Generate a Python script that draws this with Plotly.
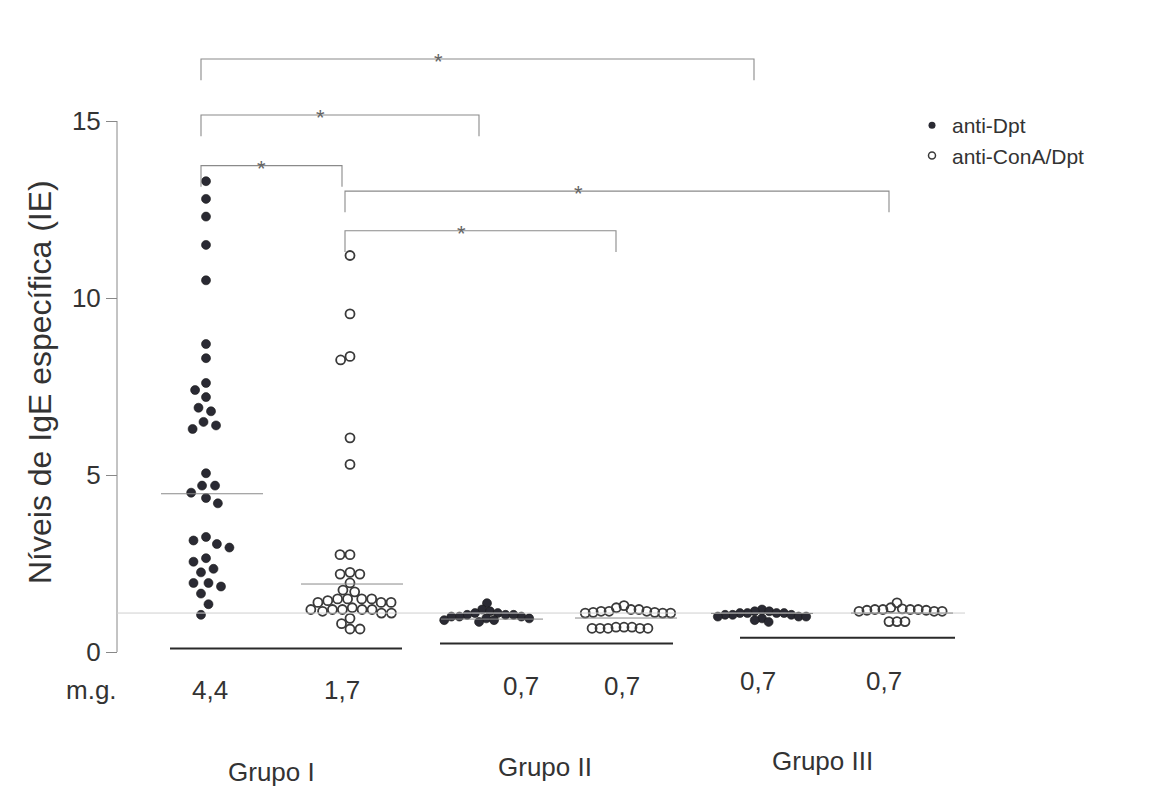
import math
import plotly.graph_objects as go

# ---------------- data ----------------
series_names = ["anti-Dpt", "anti-ConA/Dpt"]
group_labels = ["Grupo I", "Grupo II", "Grupo III"]
mg_labels = ["4,4", "1,7", "0,7", "0,7", "0,7", "0,7"]
y_ticks = [0, 5, 10, 15]

g1_dpt = [13.3, 12.8, 12.3, 11.5, 10.5, 8.7, 8.3, 7.6, 7.4, 7.2, 6.9, 6.8, 6.5,
          6.4, 6.3, 5.05, 4.7, 4.7, 4.5, 4.35, 4.2, 3.25, 3.15, 3.05, 2.95,
          2.65, 2.55, 2.35, 2.25, 1.95, 1.95, 1.85, 1.65, 1.35, 1.05]
g1_cona = [11.2, 9.55, 8.35, 8.25, 6.05, 5.3, 2.75, 2.75, 2.25, 2.2, 2.2, 1.95,
           1.75, 1.7, 1.5, 1.5, 1.5, 1.5, 1.45, 1.4, 1.4, 1.4, 1.25, 1.2, 1.2,
           1.2, 1.2, 1.2, 1.15, 1.1, 1.1, 0.95, 0.8, 0.65, 0.65]
g2_dpt = [1.38, 1.2, 1.15, 1.1, 1.1, 1.05, 1.05, 1.0, 1.0, 1.0, 0.95, 0.95,
          0.9, 0.9, 0.85, 1.05]
g2_cona = [1.31, 1.25, 1.2, 1.2, 1.15, 1.15, 1.12, 1.12, 1.1, 1.1, 1.1, 1.15,
           0.67, 0.67, 0.67, 0.67, 0.67, 0.7, 0.7, 0.7]
g3_dpt = [1.2, 1.15, 1.15, 1.1, 1.1, 1.1, 1.1, 1.05, 1.05, 1.05, 1.0, 1.0,
          1.0, 0.95, 0.9, 0.85]
g3_cona = [1.39, 1.25, 1.22, 1.2, 1.2, 1.2, 1.2, 1.18, 1.18, 1.15, 1.15, 1.15,
           0.86, 0.86, 0.86]
mean_lines = [4.47, 1.92, 0.93, 0.96, 1.09, 1.10]
cutoff_level = 1.1
# significance brackets: (from column, to column, level)
brackets = [(0, 4, 16.75), (0, 2, 15.17), (0, 1, 13.74), (1, 5, 13.02), (1, 3, 11.9)]

columns = [g1_dpt, g1_cona, g2_dpt, g2_cona, g3_dpt, g3_cona]
col_series = [0, 1, 0, 1, 0, 1]

# ---------------- layout constants ----------------
W, H = 1154, 787
Y0_PX = 652.0          # pixel row of value 0
PX_PER_UNIT = 35.4     # pixels per unit
AXIS_X = 117
COL_X = [206, 350, 487, 624, 762, 897]
MEAN_X = [212, 352, 492, 626, 762, 902]
SWARM_D = [13, 10, 8, 8, 7.5, 8]
GROUP_LINES = [(170, 402, 0.1), (440, 673, 0.24), (740, 955, 0.4)]
MG_Y_PX = [690, 690, 686, 686, 681, 681]
MG_X = [210, 342, 521, 622, 758, 884]
GROUP_X = [271, 545, 822]
GROUP_Y_PX = [772, 767, 761]
FONT = "Liberation Sans, Arial, sans-serif"
TXT = "#333333"


def yv(py):
    return (Y0_PX - py) / PX_PER_UNIT


def swarm_offsets(vals, d):
    ys = [v * PX_PER_UNIT for v in vals]
    order = sorted(range(len(vals)), key=lambda i: -vals[i])
    placed, offs = [], [0.0] * len(vals)
    for i in order:
        y = ys[i]
        near = [(px, py) for px, py in placed if abs(py - y) < d]
        cands = [0.0]
        for px, py in near:
            w = math.sqrt(d * d - (py - y) ** 2)
            cands += [px + w, px - w]
        cands.sort(key=lambda c: (abs(c), c))
        for c in cands:
            if all((c - px) ** 2 + (y - py) ** 2 >= d * d - 1e-6 for px, py in near):
                offs[i] = c
                break
        placed.append((offs[i], y))
    return offs


marker_styles = [
    dict(symbol="circle", size=9, color="#2a2a33", line=dict(width=0.6, color="#1a1a1a")),
    dict(symbol="circle-open", size=9, color="#3a3a3a", line=dict(width=1.8)),
]

fig = go.Figure()
for k, vals in enumerate(columns):
    offs = swarm_offsets(vals, SWARM_D[k])
    fig.add_trace(go.Scatter(
        x=[COL_X[k] + o for o in offs], y=vals, mode="markers",
        marker=marker_styles[col_series[k]], showlegend=False,
        name=series_names[col_series[k]], hoverinfo="y"))

# legend entries
legend_markers = [
    dict(symbol="circle", size=7, color="#2a2a33"),
    dict(symbol="circle-open", size=7, color="#3a3a3a", line=dict(width=1.5)),
]
for s, name in enumerate(series_names):
    fig.add_trace(go.Scatter(x=[None], y=[None], mode="markers", name=name,
                             marker=legend_markers[s], showlegend=True))

shapes = []
# y axis line
shapes.append(dict(type="line", xref="x", yref="y", x0=AXIS_X, x1=AXIS_X, y0=0, y1=15,
                   line=dict(color="#888", width=1)))
# faint reference line
shapes.append(dict(type="line", xref="x", yref="y", x0=AXIS_X, x1=965, y0=cutoff_level,
                   y1=cutoff_level, line=dict(color="#cfcfcf", width=1)))
# mean lines
for k, m in enumerate(mean_lines):
    shapes.append(dict(type="line", xref="x", yref="y", x0=MEAN_X[k] - 51, x1=MEAN_X[k] + 51,
                       y0=m, y1=m, line=dict(color="#8a8a8a", width=1)))
# group base lines
for x0, x1, lv in GROUP_LINES:
    shapes.append(dict(type="line", xref="x", yref="y", x0=x0, x1=x1, y0=lv, y1=lv,
                       line=dict(color="#2a2a2a", width=2)))
# brackets
TICK_DEPTH = 0.6
annotations = []
for a, b, lv in brackets:
    xa, xb = COL_X[a] - 5, COL_X[b] - 8
    shapes.append(dict(type="path", xref="x", yref="y",
                       path=f"M {xa},{lv - TICK_DEPTH} L {xa},{lv} L {xb},{lv} L {xb},{lv - TICK_DEPTH}",
                       line=dict(color="#8a8a8a", width=1.1)))
    annotations.append(dict(x=xa + 0.43 * (xb - xa), y=lv - 0.08, xref="x", yref="y", text="*",
                            showarrow=False, yanchor="middle", xanchor="center",
                            font=dict(family=FONT, size=22, color="#666")))

# m.g. row
annotations.append(dict(x=91, y=yv(690), xref="x", yref="y", text="m.g.", showarrow=False,
                        font=dict(family=FONT, size=26, color=TXT)))
for k, lab in enumerate(mg_labels):
    annotations.append(dict(x=MG_X[k], y=yv(MG_Y_PX[k]), xref="x", yref="y", text=lab,
                            showarrow=False, font=dict(family=FONT, size=26, color=TXT)))
# group labels
for g, lab in enumerate(group_labels):
    annotations.append(dict(x=GROUP_X[g], y=yv(GROUP_Y_PX[g]), xref="x", yref="y", text=lab,
                            showarrow=False, font=dict(family=FONT, size=26, color=TXT)))
# y-axis title
annotations.append(dict(x=40, y=yv(382), xref="x", yref="y", text="Níveis de IgE específica (IE)",
                        textangle=-90, showarrow=False,
                        font=dict(family=FONT, size=32, color=TXT)))

fig.update_layout(
    width=W, height=H, margin=dict(l=0, r=0, t=0, b=0),
    paper_bgcolor="white", plot_bgcolor="white",
    xaxis=dict(range=[0, W], visible=False),
    yaxis=dict(range=[yv(H), yv(0)], tickvals=y_ticks, ticks="outside", ticklen=11,
               tickcolor="#888", tickwidth=1, showline=False, showgrid=False, zeroline=False,
               anchor="free", position=AXIS_X / W,
               tickfont=dict(family=FONT, size=26, color=TXT)),
    shapes=shapes, annotations=annotations,
    legend=dict(x=912 / W, y=1 - 105 / H, xanchor="left", yanchor="top",
                font=dict(family=FONT, size=21, color=TXT), bgcolor="rgba(0,0,0,0)",
                tracegroupgap=6, itemwidth=30),
    showlegend=True,
)

fig.write_html("out.html", config={"displayModeBar": False},
               post_script="document.body.style.margin='0';")
